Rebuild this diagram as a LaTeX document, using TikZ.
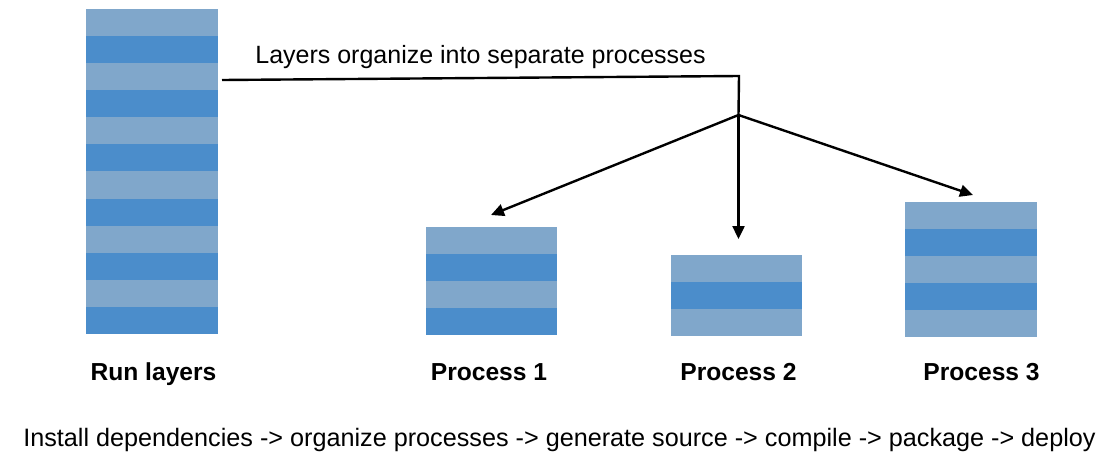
\documentclass[tikz,border=0pt]{standalone}
\usepackage{fontspec}
\setmainfont{Liberation Sans}
\usetikzlibrary{arrows.meta}
\definecolor{lightstripe}{RGB}{128,167,203}
\definecolor{darkstripe}{RGB}{75,141,203}
\tikzset{
  stackbox/.style={inner sep=0pt, outer sep=0pt, anchor=north west, minimum width=132pt},
  lbl/.style={font=\fontsize{24.6}{29}\selectfont\bfseries, inner sep=0pt, anchor=base},
  txt/.style={font=\fontsize{25}{29}\selectfont, inner sep=0pt},
  conn/.style={line width=2.4pt, black, line join=miter},
  arr/.style={conn, -{Triangle[length=13pt,width=12pt]}}
}
\begin{document}
\begin{tikzpicture}[x=1pt,y=-1pt]
\useasboundingbox (0,0) rectangle (1105,461);
% Run layers stack
\foreach \i in {0,...,11}{\ifodd\i\def\col{darkstripe}\else\def\col{lightstripe}\fi
  \fill[\col] (86,{9+27.08*\i}) rectangle (218,{9+27.08*(\i+1)});}
\node[stackbox, minimum height=325pt] (run) at (86,9) {};
% Process 1
\foreach \i in {0,...,3}{\ifodd\i\def\col{darkstripe}\else\def\col{lightstripe}\fi
  \fill[\col] (426,{227+27*\i}) rectangle (557,{227+27*(\i+1)});}
\node[stackbox, minimum width=131pt, minimum height=108pt] (p1) at (426,227) {};
% Process 2
\foreach \i in {0,...,2}{\ifodd\i\def\col{darkstripe}\else\def\col{lightstripe}\fi
  \fill[\col] (671,{255+27*\i}) rectangle (802,{255+27*(\i+1)});}
\node[stackbox, minimum width=131pt, minimum height=81pt] (p2) at (671,255) {};
% Process 3
\foreach \i in {0,...,4}{\ifodd\i\def\col{darkstripe}\else\def\col{lightstripe}\fi
  \fill[\col] (905,{202+27*\i}) rectangle (1037,{202+27*(\i+1)});}
\node[stackbox, minimum height=135pt] (p3) at (905,202) {};
% labels
\node[lbl] (runlbl) at (153.5,380) {Run layers};
\node[lbl] (p1lbl) at (489,380) {Process 1};
\node[lbl] (p2lbl) at (738.5,380) {Process 2};
\node[lbl] (p3lbl) at (981.5,380) {Process 3};
\node[txt] (top) at (480.5,57) {Layers organize into separate processes};
\node[txt, font=\fontsize{25.2}{29}\selectfont] (bottom) at (559.5,440) {Install dependencies -> organize processes -> generate source -> compile -> package -> deploy};
% connectors
\coordinate (start) at (222,80);
\coordinate (corner) at (739,76);
\coordinate (hub) at (738.5,115);
\coordinate (t1) at (491,215);
\coordinate (t2) at (738.5,239);
\coordinate (t3) at (973,195);
\draw[conn] (start) -- (corner) -- (hub);
\draw[arr] (hub) -- (t1);
\draw[arr] (hub) -- (t2);
\draw[arr] (hub) -- (t3);
\end{tikzpicture}
\end{document}
